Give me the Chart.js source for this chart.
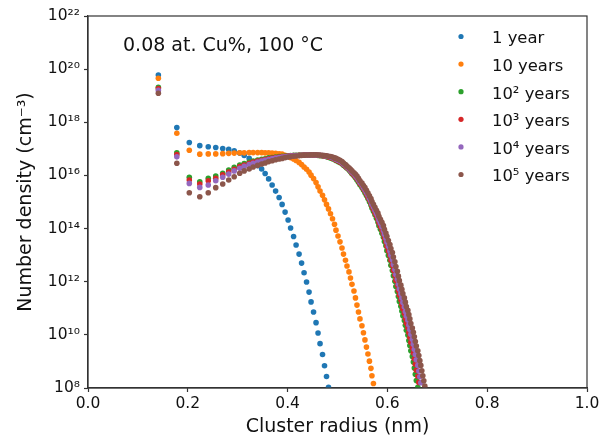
<!DOCTYPE html>
<html>
<head>
<meta charset="utf-8">
<script src="https://cdn.jsdelivr.net/npm/chart.js@4.4.1/dist/chart.umd.min.js"></script>
<style>
  html, body { margin: 0; padding: 0; background: #fff; }
  #wrap { width: 612px; height: 442px; position: relative; }
</style>
</head>
<body>
<div id="wrap"><canvas id="chart"></canvas></div>
<script>
// Cluster radius (nm) for each cluster size, 1 atom upwards
const radius = [
    0.141, 0.178, 0.203, 0.224, 0.241, 0.256, 0.270, 0.282, 0.293, 0.304,
    0.313, 0.323, 0.331, 0.340, 0.348, 0.355, 0.362, 0.369, 0.376, 0.383,
    0.389, 0.395, 0.401, 0.406, 0.412, 0.417, 0.423, 0.428, 0.433, 0.438,
    0.443, 0.447, 0.452, 0.457, 0.461, 0.465, 0.470, 0.474, 0.478, 0.482,
    0.486, 0.490, 0.494, 0.497, 0.501, 0.505, 0.509, 0.512, 0.516, 0.519,
    0.523, 0.526, 0.529, 0.533, 0.536, 0.539, 0.542, 0.545, 0.549, 0.552,
    0.555, 0.558, 0.561, 0.564, 0.567, 0.569, 0.572, 0.575, 0.578, 0.581,
    0.583, 0.586, 0.589, 0.592, 0.594, 0.597, 0.599, 0.602, 0.605, 0.607,
    0.610, 0.612, 0.615, 0.617, 0.620, 0.622, 0.624, 0.627, 0.629, 0.631,
    0.634, 0.636, 0.638, 0.641, 0.643, 0.645, 0.647, 0.650, 0.652, 0.654,
    0.656, 0.658, 0.661, 0.663, 0.665, 0.667, 0.669, 0.671, 0.673, 0.675
];

// log10 of number density (cm^-3), one value per radius
const year1 = [
    19.78, 17.80, 17.24, 17.12, 17.08, 17.05, 17.01, 16.98, 16.93, 16.84,
    16.75, 16.64, 16.51, 16.37, 16.24, 16.07, 15.87, 15.64, 15.41, 15.17,
    14.91, 14.62, 14.32, 14.02, 13.70, 13.38, 13.04, 12.70, 12.34, 11.99,
    11.61, 11.24, 10.86, 10.46, 10.07, 9.67, 9.26, 8.84, 8.43, 8.03
];
const year10 = [
    19.66, 17.59, 16.95, 16.80, 16.81, 16.81, 16.82, 16.83, 16.84, 16.85,
    16.85, 16.86, 16.86, 16.86, 16.86, 16.85, 16.85, 16.84, 16.83, 16.81,
    16.80, 16.76, 16.72, 16.67, 16.62, 16.56, 16.49, 16.41, 16.32, 16.23,
    16.13, 16.01, 15.88, 15.73, 15.57, 15.41, 15.25, 15.08, 14.91, 14.74,
    14.56, 14.37, 14.16, 13.94, 13.72, 13.50, 13.27, 13.04, 12.81, 12.59,
    12.37, 12.14, 11.90, 11.65, 11.39, 11.12, 10.86, 10.60, 10.34, 10.08,
    9.81, 9.54, 9.28, 9.01, 8.74, 8.46, 8.17
];
const year1e2 = [
    19.32, 16.85, 15.93, 15.76, 15.89, 15.98, 16.08, 16.20, 16.31, 16.39,
    16.45, 16.50, 16.54, 16.58, 16.61, 16.63, 16.66, 16.67, 16.69, 16.71,
    16.72, 16.73, 16.74, 16.75, 16.76, 16.76, 16.77, 16.77, 16.78, 16.78,
    16.78, 16.77, 16.77, 16.76, 16.75, 16.74, 16.73, 16.72, 16.70, 16.68,
    16.66, 16.63, 16.60, 16.56, 16.52, 16.49, 16.44, 16.38, 16.33, 16.27,
    16.20, 16.14, 16.06, 15.99, 15.91, 15.83, 15.74, 15.65, 15.55, 15.45,
    15.35, 15.24, 15.13, 15.01, 14.89, 14.77, 14.65, 14.52, 14.39, 14.25,
    14.11, 13.97, 13.82, 13.67, 13.51, 13.35, 13.17, 12.99, 12.81, 12.62,
    12.42, 12.22, 12.02, 11.82, 11.63, 11.44, 11.26, 11.08, 10.90, 10.72,
    10.54, 10.36, 10.17, 9.99, 9.79, 9.60, 9.40, 9.19, 8.98, 8.75,
    8.52, 8.28, 8.03
];
const year1e3 = [
    19.27, 16.79, 15.83, 15.68, 15.80, 15.89, 16.02, 16.13, 16.23, 16.33,
    16.39, 16.46, 16.50, 16.54, 16.57, 16.60, 16.63, 16.65, 16.67, 16.69,
    16.70, 16.72, 16.73, 16.74, 16.75, 16.75, 16.76, 16.76, 16.77, 16.77,
    16.78, 16.78, 16.77, 16.76, 16.76, 16.75, 16.74, 16.73, 16.71, 16.69,
    16.68, 16.65, 16.62, 16.58, 16.55, 16.51, 16.46, 16.41, 16.35, 16.29,
    16.23, 16.17, 16.09, 16.02, 15.95, 15.88, 15.79, 15.70, 15.60, 15.50,
    15.41, 15.30, 15.19, 15.08, 14.96, 14.85, 14.73, 14.60, 14.48, 14.35,
    14.22, 14.08, 13.95, 13.80, 13.65, 13.49, 13.33, 13.16, 12.99, 12.81,
    12.62, 12.43, 12.24, 12.05, 11.86, 11.67, 11.49, 11.32, 11.14, 10.97,
    10.80, 10.62, 10.44, 10.27, 10.08, 9.90, 9.71, 9.51, 9.32, 9.10,
    8.89, 8.67, 8.44, 8.21
];
const year1e4 = [
    19.20, 16.70, 15.70, 15.55, 15.64, 15.80, 15.93, 16.05, 16.17, 16.27,
    16.34, 16.41, 16.46, 16.50, 16.54, 16.57, 16.60, 16.63, 16.65, 16.67,
    16.69, 16.70, 16.72, 16.73, 16.74, 16.75, 16.75, 16.76, 16.76, 16.77,
    16.77, 16.78, 16.78, 16.77, 16.76, 16.76, 16.75, 16.74, 16.73, 16.71,
    16.69, 16.67, 16.64, 16.61, 16.57, 16.54, 16.49, 16.43, 16.38, 16.32,
    16.25, 16.19, 16.13, 16.06, 15.99, 15.92, 15.83, 15.74, 15.65, 15.55,
    15.46, 15.36, 15.26, 15.14, 15.03, 14.92, 14.81, 14.69, 14.57, 14.45,
    14.32, 14.20, 14.07, 13.93, 13.79, 13.64, 13.49, 13.33, 13.16, 13.00,
    12.83, 12.65, 12.46, 12.27, 12.09, 11.90, 11.73, 11.55, 11.39, 11.22,
    11.05, 10.88, 10.71, 10.55, 10.37, 10.20, 10.02, 9.83, 9.65, 9.46,
    9.26, 9.06, 8.85, 8.64, 8.42, 8.20
];
const year1e5 = [
    19.09, 16.46, 15.35, 15.20, 15.35, 15.54, 15.68, 15.83, 15.95, 16.08,
    16.17, 16.24, 16.32, 16.38, 16.43, 16.47, 16.52, 16.55, 16.59, 16.62,
    16.64, 16.67, 16.69, 16.70, 16.72, 16.73, 16.74, 16.75, 16.76, 16.77,
    16.77, 16.78, 16.78, 16.78, 16.77, 16.77, 16.76, 16.75, 16.74, 16.72,
    16.71, 16.69, 16.66, 16.64, 16.61, 16.57, 16.52, 16.47, 16.41, 16.35,
    16.29, 16.23, 16.17, 16.10, 16.04, 15.98, 15.89, 15.80, 15.71, 15.62,
    15.54, 15.44, 15.34, 15.23, 15.13, 15.02, 14.91, 14.80, 14.69, 14.58,
    14.46, 14.35, 14.24, 14.11, 13.97, 13.83, 13.71, 13.55, 13.40, 13.25,
    13.10, 12.93, 12.75, 12.57, 12.39, 12.21, 12.04, 11.87, 11.71, 11.55,
    11.39, 11.23, 11.07, 10.92, 10.76, 10.60, 10.43, 10.26, 10.10, 9.93,
    9.75, 9.58, 9.40, 9.22, 9.03, 8.85, 8.65, 8.46, 8.27, 8.07
];

const seriesLabels = ['1 year', '10 years', '10\u00B2 years', '10\u00B3 years', '10\u2074 years', '10\u2075 years'];
const seriesColors = ['#1f77b4', '#ff7f0e', '#2ca02c', '#d62728', '#9467bd', '#8c564b'];
const seriesData = [year1, year10, year1e2, year1e3, year1e4, year1e5];

const xTickLabels = ['0.0', '0.2', '0.4', '0.6', '0.8', '1.0'];
const yTickValues = [1e8, 1e10, 1e12, 1e14, 1e16, 1e18, 1e20, 1e22];
const yTickLabels = ['10\u2078', '10\u00B9\u2070', '10\u00B9\u00B2', '10\u00B9\u2074', '10\u00B9\u2076', '10\u00B9\u2078', '10\u00B2\u2070', '10\u00B2\u00B2'];

const noteText = '0.08 at. Cu%, 100 \u00B0C';

const textColor = '#111';
const axisColor = '#333';

// box round the plot area, like matplotlib spines
const framePlugin = {
    id: 'frame',
    afterDatasetsDraw(chart) {
        const { ctx, chartArea: a } = chart;
        ctx.save();
        ctx.strokeStyle = axisColor;
        ctx.lineWidth = 1.2;
        ctx.strokeRect(a.left, a.top, a.right - a.left, a.bottom - a.top);
        ctx.restore();
    }
};

// legend in the top right corner and the text label
const notesPlugin = {
    id: 'notes',
    afterDraw(chart) {
        const ctx = chart.ctx;
        ctx.save();
        ctx.font = '19px "DejaVu Sans"';
        ctx.fillStyle = textColor;
        ctx.textBaseline = 'alphabetic';
        ctx.fillText(noteText, 123, 50.5);

        ctx.font = '16.4px "DejaVu Sans"';
        seriesLabels.forEach((label, i) => {
            const y = 36.5 + i * 27.6;
            ctx.fillStyle = seriesColors[i];
            ctx.beginPath();
            ctx.arc(461, y, 2.6, 0, Math.PI * 2);
            ctx.fill();
            ctx.fillStyle = textColor;
            ctx.fillText(label, 492, y + 6.8);
        });
        ctx.restore();
    }
};

Chart.defaults.font.family = '"DejaVu Sans", sans-serif';
Chart.defaults.color = textColor;

new Chart(document.getElementById('chart'), {
    type: 'scatter',
    data: {
        datasets: seriesData.map((vals, i) => ({
            label: seriesLabels[i],
            data: vals.map((e, k) => ({ x: radius[k], y: Math.pow(10, e) })),
            backgroundColor: seriesColors[i],
            borderWidth: 0,
            pointRadius: 2.8,
            pointHoverRadius: 2.8,
            clip: 0,
            order: seriesData.length - 1 - i
        }))
    },
    options: {
        responsive: true, maintainAspectRatio: false,
        animation: false,
        layout: { padding: { top: 16, right: 25, left: 0, bottom: 0 } },
        plugins: { legend: { display: false }, tooltip: { enabled: false } },
        scales: {
            x: {
                type: 'linear', min: 0, max: 1,
                ticks: { stepSize: 0.2, callback: (v, i) => xTickLabels[i], font: { size: 15.5 }, color: textColor, padding: 3, maxRotation: 0 },
                grid: { drawOnChartArea: false, tickLength: 4, tickColor: axisColor, tickWidth: 1.2 },
                border: { color: axisColor, width: 1.2 },
                title: { display: true, text: 'Cluster radius (nm)', font: { size: 19 }, color: textColor, padding: { top: 0, bottom: 4 } },
                afterFit: s => { s.height = 54; }
            },
            y: {
                type: 'logarithmic', min: 1e8, max: 1e22,
                afterBuildTicks: s => { s.ticks = yTickValues.map(v => ({ value: v, major: true })); },
                ticks: { callback: (v, i) => yTickLabels[i], font: { size: 15.5 }, color: textColor, padding: 4, autoSkip: false },
                grid: { drawOnChartArea: false, tickLength: 4, tickColor: axisColor, tickWidth: 1.2 },
                border: { color: axisColor, width: 1.2 },
                title: { display: true, text: 'Number density (cm\u207B\u00B3)', font: { size: 19 }, color: textColor, padding: { top: 15, bottom: 0 } },
                afterFit: s => { s.width = 88; }
            }
        }
    },
    plugins: [framePlugin, notesPlugin]
});
</script>
</body>
</html>
